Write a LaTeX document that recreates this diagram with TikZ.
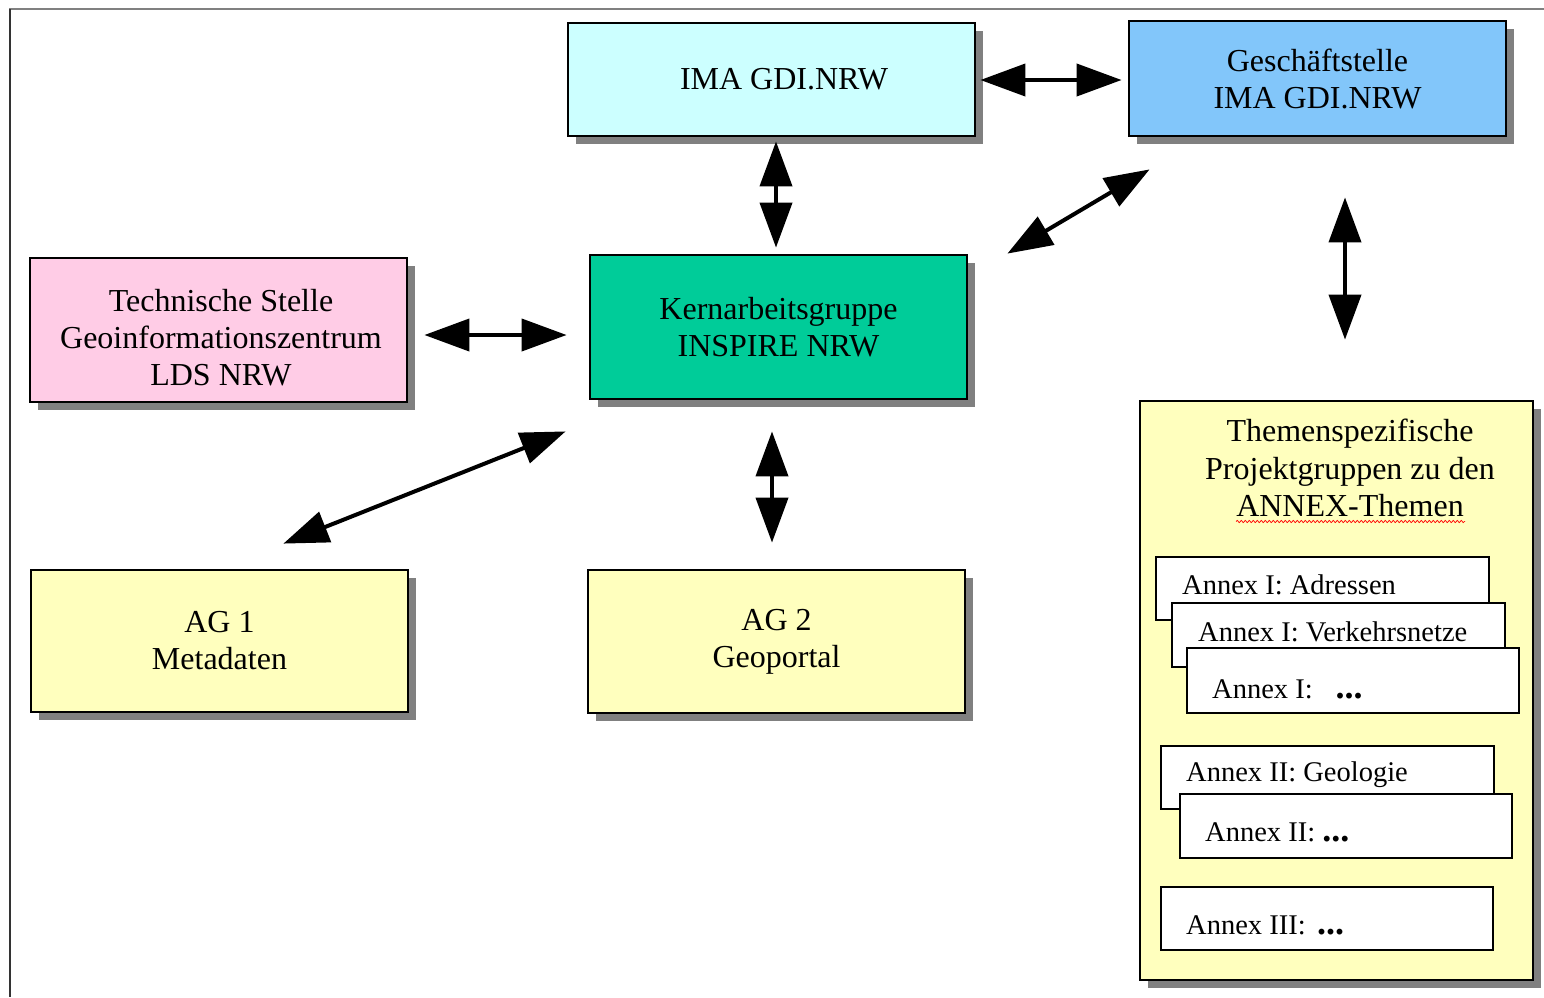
\documentclass[tikz,border=0pt]{standalone}
\usepackage{fontspec}
\setmainfont{Liberation Serif}
\usetikzlibrary{arrows.meta,calc,shadows,decorations.pathmorphing}
\definecolor{cyanbox}{RGB}{204,255,255}
\definecolor{bluebox}{RGB}{130,198,250}
\definecolor{pinkbox}{RGB}{255,204,230}
\definecolor{greenbox}{RGB}{0,204,153}
\definecolor{yellowbox}{RGB}{255,255,190}
\definecolor{shgray}{RGB}{128,128,128}
\newcommand{\bigdots}{\textbf{\fontsize{36}{36}\selectfont ...}}
\begin{document}
\begin{tikzpicture}[x=1pt,y=-1pt,
  box/.style={draw=black,line width=2.8pt,inner sep=0pt,align=center,
    font=\fontsize{32}{37}\selectfont,
    drop shadow={shadow xshift=8pt,shadow yshift=-8pt,fill=shgray,opacity=1}},
  boxtext/.style={inner sep=0pt,align=center,font=\fontsize{32}{37}\selectfont},
  annexbox/.style={draw=black,fill=white,line width=2.6pt,inner sep=0pt},
  annextext/.style={anchor=west,inner sep=0pt,font=\fontsize{28.5}{33}\selectfont},
  dbl/.style={{Triangle[length=45pt,width=32pt]}-{Triangle[length=45pt,width=32pt]},line width=4pt}
]
\useasboundingbox (0,0) rectangle (1544,997);
\fill[white] (0,0) rectangle (1544,997);
% outer frame
\draw[shgray,line width=2pt] (9,9) -- (1544,9);
\draw[black!80,line width=2pt] (10,9) -- (10,997);

% main boxes
\node[box,fill=cyanbox,minimum width=407pt,minimum height=113pt] (ima) at (771.5,79.5) {\hspace*{25pt}IMA GDI.NRW};
\node[box,fill=bluebox,minimum width=377pt,minimum height=115pt] (gesch) at (1317.5,78.5) {Geschäftstelle\\IMA GDI.NRW};
\node[box,fill=pinkbox,minimum width=377pt,minimum height=144pt] (tech) at (218.5,330) {};
\node[boxtext] (techt) at (221,338) {Technische Stelle\\Geoinformationszentrum\\LDS NRW};
\node[box,fill=greenbox,minimum width=377pt,minimum height=144pt] (kern) at (778.5,327) {Kernarbeitsgruppe\\INSPIRE NRW};
\node[box,fill=yellowbox,minimum width=377pt,minimum height=142pt] (ag1) at (219.5,641) {AG 1\\Metadaten};
\node[box,fill=yellowbox,minimum width=377pt,minimum height=143pt] (ag2) at (776.5,641.5) {AG 2\\Geoportal};
\node[box,fill=yellowbox,minimum width=393pt,minimum height=579pt] (themen) at (1336.5,690.5) {};
\node[align=center,inner sep=0pt,font=\fontsize{32}{37.5}\selectfont] (ttitle) at (1350,468) {Themenspezifische\\Projektgruppen zu den\\ANNEX-Themen};
\draw[red,line width=0.7pt,decorate,decoration={snake,amplitude=1.1pt,segment length=4pt}] (1236,521.5) -- (1465,521.5);

% annex boxes
\node[annexbox,minimum width=333pt,minimum height=63pt] (a1) at (1322.5,588.5) {};
\node[annextext] (a1t) at (1182,585) {Annex I: Adressen};
\node[annexbox,minimum width=333pt,minimum height=64pt] (a2) at (1338.5,635) {};
\node[annextext] (a2t) at (1198,632) {Annex I: Verkehrsnetze};
\node[annexbox,minimum width=332pt,minimum height=65pt] (a3) at (1353,680.5) {};
\node[annextext] (a3t) at (1212,689) {Annex I:\hspace{0.8em}\bigdots};
\node[annexbox,minimum width=333pt,minimum height=63pt] (b1) at (1327.5,777.5) {};
\node[annextext] (b1t) at (1186,775) {Annex II: Geologie};
\node[annexbox,minimum width=332pt,minimum height=64pt] (b2) at (1346,826) {};
\node[annextext] (b2t) at (1205,832) {Annex II: \bigdots};
\node[annexbox,minimum width=332pt,minimum height=63pt] (c1) at (1327,918.5) {};
\node[annextext] (c1t) at (1186,925) {Annex III:\hspace{0.4em}\bigdots};

% connectors
\draw[dbl] ($(ima.east)+(4,0.5)$) -- ($(gesch.west)+(-6,1.5)$);
\draw[dbl] ($(ima.south)+(4.5,4)$) -- ($(kern.north)+(-2.5,-6)$);
\draw[dbl] ($(tech.east)+(16,5)$) -- ($(kern.west)+(-22,8)$);
\draw[dbl] ($(gesch.south west)+(22,32)$) -- ($(kern.north east)+(39,0)$);
\draw[dbl] ($(gesch.south)+(27.5,60)$) -- ($(themen.north)+(8.5,-60)$);
\draw[dbl] ($(kern.south west)+(-23,31)$) -- ($(ag1.north east)+(-126,-25)$);
\draw[dbl] ($(kern.south)+(-6.5,31)$) -- ($(ag2.north)+(-4.5,-26)$);
\end{tikzpicture}
\end{document}
